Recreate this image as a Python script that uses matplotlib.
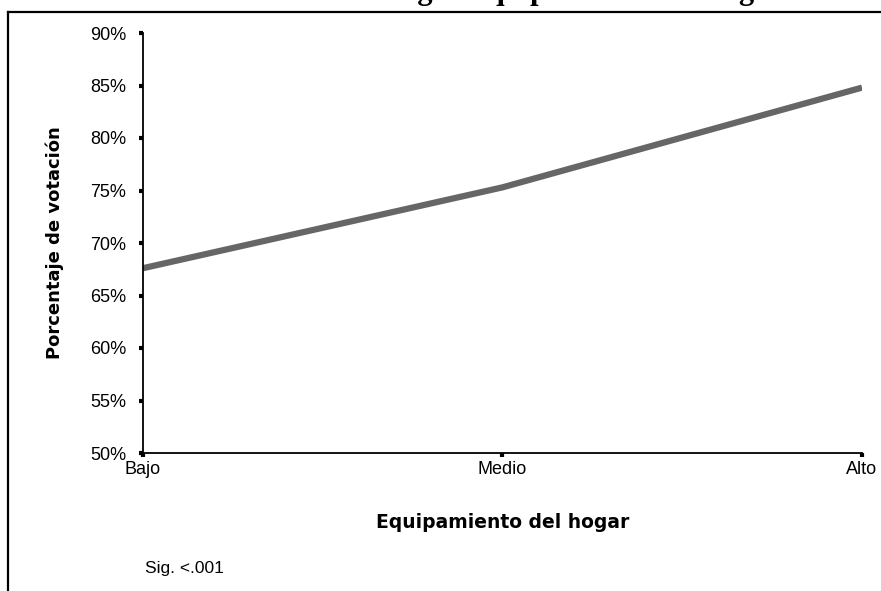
import matplotlib
matplotlib.use("Agg")
import matplotlib.pyplot as plt
from matplotlib.lines import Line2D
from matplotlib.ticker import FuncFormatter

# data
categorias = ["Bajo", "Medio", "Alto"]
votacion = [67.6, 75.3, 84.8]
y_ticks = [50, 55, 60, 65, 70, 75, 80, 85, 90]

titulo = "Votación según equipamiento del hogar"
x_label = "Equipamiento del hogar"
y_label = "Porcentaje de votación"
nota = "Sig. <.001"

W, H = 881, 591
fig = plt.figure(figsize=(W / 100, H / 100), dpi=100)
plt.rcParams['font.family'] = ['Liberation Sans', 'DejaVu Sans']

ax = fig.add_axes([143 / W, 1 - 453 / H, (862 - 143) / W, (453 - 33) / H])
x = list(range(len(categorias)))
ax.plot(x, votacion, color="#666666", lw=4.5, solid_capstyle="butt")

ax.set_xlim(0, len(categorias) - 1)
ax.set_ylim(50, 90)
ax.set_yticks(y_ticks)
ax.yaxis.set_major_formatter(FuncFormatter(lambda v, p: f"{v:.0f}%"))
ax.set_xticks(x)
ax.set_xticklabels(categorias)

for s in ["top", "right"]:
    ax.spines[s].set_visible(False)
for s in ["left", "bottom"]:
    ax.spines[s].set_linewidth(1.3)
    ax.spines[s].set_color("black")
ax.tick_params(axis="both", direction="out", length=3, width=3, labelsize=13, color="black")
ax.tick_params(axis="y", pad=9)
ax.tick_params(axis="x", pad=3)
for lab in ax.get_xticklabels():
    lab.set_clip_on(False)

# axis titles placed like the original (wide black face)
fig.text(503 / W, 1 - 523 / H, x_label, ha="center", va="center",
         fontsize=13.5, fontweight="bold", family="DejaVu Sans")
fig.text(55 / W, 1 - 243 / H, y_label, ha="center", va="center",
         rotation=90, fontsize=13, fontweight="bold", family="DejaVu Sans")
fig.text(145 / W, 1 - 568 / H, nota, ha="left", va="center", fontsize=12.5)

# title mostly cut off above the frame, only descenders show
fig.text(527 / W, 1 + 1 / H, titulo, ha="center", va="baseline",
         fontsize=22, fontweight="bold", family="Liberation Serif")

# outer frame, cropped at right and bottom
fig.add_artist(Line2D([8 / W, 8 / W], [0, 1 - 12 / H], color="black", lw=1.6,
                      transform=fig.transFigure))
fig.add_artist(Line2D([8 / W, 1], [1 - 12 / H, 1 - 12 / H], color="black", lw=1.6,
                      transform=fig.transFigure))

fig.savefig("out.png", dpi=100)
